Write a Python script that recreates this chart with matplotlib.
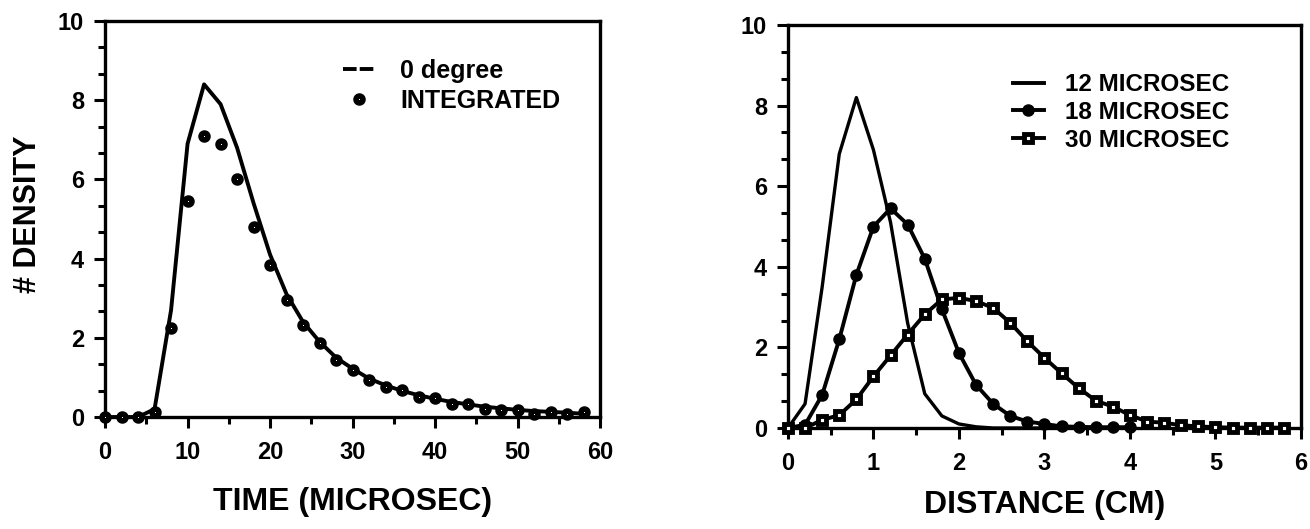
import matplotlib
matplotlib.use("Agg")
import matplotlib.pyplot as plt
from matplotlib.lines import Line2D
from matplotlib.ticker import MultipleLocator, AutoMinorLocator

plt.rcParams['font.family'] = ['Liberation Sans', 'DejaVu Sans']
plt.rcParams['font.weight'] = 'bold'

# ---------------- data : left panel (time) ----------------
time_line = [0, 2, 4, 6, 8, 10, 12, 14, 16, 18, 20, 22, 24, 26, 28, 30, 32, 34, 36, 38,
             40, 42, 44, 46, 48, 50, 52, 54, 56, 58]
deg0 = [0.0, 0.0, 0.0, 0.2, 2.7, 6.9, 8.4, 7.9, 6.8, 5.4, 4.1, 3.1, 2.4, 1.9, 1.5, 1.22,
        0.97, 0.8, 0.66, 0.55, 0.46, 0.38, 0.32, 0.26, 0.22, 0.18, 0.15, 0.13, 0.11, 0.08]
integrated = [0.0, 0.0, 0.0, 0.13, 2.25, 5.45, 7.1, 6.9, 6.0, 4.8, 3.85, 2.95, 2.32, 1.87,
              1.43, 1.18, 0.93, 0.76, 0.67, 0.5, 0.48, 0.34, 0.34, 0.21, 0.17, 0.17, 0.08,
              0.13, 0.08, 0.13]

# ---------------- data : right panel (distance) ----------------
dist = [0.0, 0.2, 0.4, 0.6, 0.8, 1.0, 1.2, 1.4, 1.6, 1.8, 2.0, 2.2, 2.4, 2.6, 2.8, 3.0,
        3.2, 3.4, 3.6, 3.8, 4.0, 4.2, 4.4, 4.6, 4.8, 5.0, 5.2, 5.4, 5.6, 5.8]
us12 = [0.0, 0.6, 3.5, 6.8, 8.2, 6.9, 5.1, 2.6, 0.85, 0.3, 0.1, 0.03, 0.0, 0.0, 0.0, 0.0,
        0.0, 0.0, 0.0, 0.0]
us18 = [0.0, 0.08, 0.82, 2.2, 3.8, 5.0, 5.45, 5.05, 4.2, 2.95, 1.86, 1.07, 0.6, 0.3,
        0.16, 0.1, 0.04, 0.03, 0.02, 0.02, 0.02]
us30 = [0.0, 0.0, 0.2, 0.32, 0.71, 1.28, 1.8, 2.32, 2.82, 3.19, 3.23, 3.15, 2.98, 2.61,
        2.15, 1.74, 1.36, 0.99, 0.68, 0.53, 0.32, 0.16, 0.13, 0.07, 0.04, 0.02, 0.01,
        0.01, 0.01, 0.01]

fig = plt.figure(figsize=(13.1, 5.29), dpi=100)
ax1 = fig.add_axes([0.0802, 0.2117, 0.3779, 0.7486])
ax2 = fig.add_axes([0.6015, 0.1909, 0.3916, 0.7618])

dot = dict(marker='o', ms=5.0, mew=4.0, mfc='white', mec='k')
sq = dict(marker='s', ms=6.4, mew=3.5, mfc='white', mec='k')
fdot = dict(marker='o', ms=8.0, mfc='k', mec='k')

# left panel
ax1.plot(time_line, deg0, color='k', lw=2.8, zorder=3)
ax1.plot(time_line, integrated, ls='none', zorder=4, clip_on=False, **dot)
ax1.set_xlim(0, 60)
ax1.set_ylim(0, 10)
ax1.xaxis.set_major_locator(MultipleLocator(10))
ax1.xaxis.set_minor_locator(MultipleLocator(5))
ax1.yaxis.set_major_locator(MultipleLocator(2))
ax1.yaxis.set_minor_locator(AutoMinorLocator(3))
ax1.set_xlabel('TIME (MICROSEC)', fontsize=23, fontweight='bold', labelpad=17)
fig.text(28 / 1310, 1 - 214 / 529, '# DENSITY', rotation=90, fontsize=22,
         fontweight='bold', ha='center', va='center')

h_deg = Line2D([], [], color='k', lw=2.8, ls=(0, (3.5, 0.8)))
h_int = Line2D([], [], ls='none', **dot)
ax1.legend([h_deg, h_int], ['0 degree', 'INTEGRATED'], loc='upper left',
           bbox_to_anchor=(0.46, 0.93), frameon=False, fontsize=18,
           handlelength=1.3, handletextpad=1.0, labelspacing=0.25,
           borderaxespad=0)

# right panel
ax2.plot(dist[:len(us12)], us12, color='k', lw=2.4, zorder=3)
ax2.plot(dist[:len(us18)], us18, color='k', lw=2.8, zorder=4, clip_on=False, **fdot)
ax2.plot(dist, us30, color='k', lw=2.8, zorder=5, clip_on=False, **sq)
ax2.set_xlim(0, 6)
ax2.set_ylim(0, 10)
ax2.xaxis.set_major_locator(MultipleLocator(1))
ax2.xaxis.set_minor_locator(MultipleLocator(0.5))
ax2.yaxis.set_major_locator(MultipleLocator(2))
ax2.yaxis.set_minor_locator(AutoMinorLocator(3))
ax2.set_xlabel('DISTANCE (CM)', fontsize=23, fontweight='bold', labelpad=11)

h12 = Line2D([], [], color='k', lw=2.8)
h18 = Line2D([], [], color='k', lw=2.8, **fdot)
h30 = Line2D([], [], color='k', lw=2.8, **sq)
ax2.legend([h12, h18, h30], ['12 MICROSEC', '18 MICROSEC', '30 MICROSEC'],
           loc='upper left', bbox_to_anchor=(0.42, 0.905), frameon=False,
           fontsize=17.5, handlelength=1.25, handletextpad=0.9, labelspacing=0.2,
           borderaxespad=0)

for ax in (ax1, ax2):
    for sp in ax.spines.values():
        sp.set_linewidth(2.4)
    ax.tick_params(which='major', direction='out', length=8, width=2.2,
                   labelsize=17)
    ax.tick_params(which='minor', direction='out', length=5, width=2.2)
    ax.tick_params(axis='x', which='major', pad=9)
    ax.tick_params(axis='y', which='major', pad=7)
    for lab in ax.get_xticklabels() + ax.get_yticklabels():
        lab.set_fontweight('bold')

fig.savefig('out.png', dpi=100)
